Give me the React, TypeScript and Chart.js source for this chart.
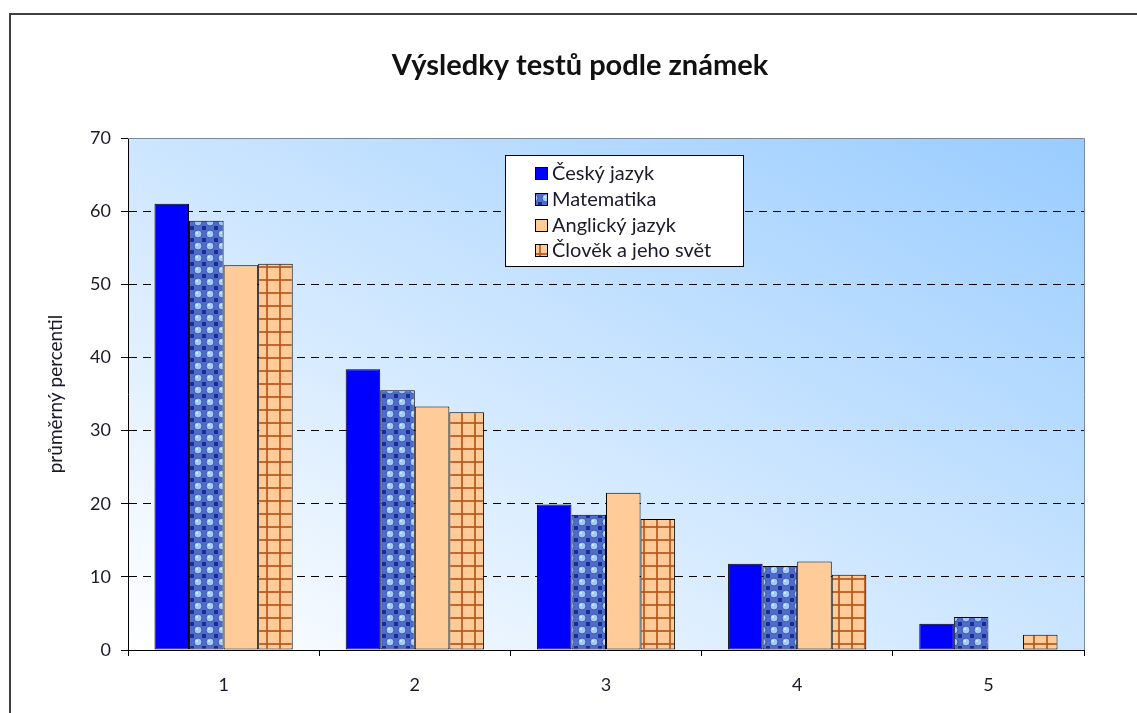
import React, { useEffect, useRef } from 'react';
import { Chart, registerables } from 'chart.js';

Chart.register(...registerables);

const categories = ['1', '2', '3', '4', '5'];
const ceskyJazyk = [61.0, 38.4, 19.9, 11.8, 3.6];
const matematika = [58.7, 35.5, 18.5, 11.5, 4.5];
const anglickyJazyk = [52.6, 33.3, 21.5, 12.1, 0];
const clovekSvet = [52.8, 32.5, 17.9, 10.3, 2.1];
const seriesNames = ['Český jazyk', 'Matematika', 'Anglický jazyk', 'Člověk a jeho svět'];
const chartTitle = 'Výsledky testů podle známek';
const yAxisTitle = 'průměrný percentil';
const yMin = 0;
const yMax = 70;
const yStep = 10;

const FONT = 'Lato, "Open Sans", sans-serif';
const W = 1137;
const H = 713;

function makeMathPattern(): CanvasPattern | string {
  const c = document.createElement('canvas');
  const s = 12;
  c.width = s;
  c.height = s;
  const g = c.getContext('2d');
  if (!g) return '#7fa6e6';
  g.fillStyle = '#4f6ccb';
  g.fillRect(0, 0, s, s);
  g.fillStyle = '#1d2a8e';
  g.fillRect(0, 0, 2, 2);
  g.fillRect(s - 2, 0, 2, 2);
  g.fillRect(0, s - 2, 2, 2);
  g.fillRect(s - 2, s - 2, 2, 2);
  g.beginPath();
  g.arc(6, 6, 4, 0, Math.PI * 2);
  g.fillStyle = '#a3c9f8';
  g.fill();
  g.lineWidth = 1;
  g.strokeStyle = '#3a57b8';
  g.stroke();
  g.fillStyle = '#cfe5ff';
  g.fillRect(4, 4, 2, 2);
  const p = g.createPattern(c, 'repeat');
  return p || '#7fa6e6';
}

function makeGridPattern(): CanvasPattern | string {
  const c = document.createElement('canvas');
  const s = 13;
  c.width = s;
  c.height = s;
  const g = c.getContext('2d');
  if (!g) return '#ffcc99';
  g.fillStyle = '#ffcc99';
  g.fillRect(0, 0, s, s);
  g.fillStyle = 'rgba(185, 85, 25, 0.85)';
  g.fillRect(0, 6, s, 2);
  g.fillRect(6, 0, 2, s);
  const p = g.createPattern(c, 'repeat');
  return p || '#ffcc99';
}

export default function App() {
  const ref = useRef<HTMLCanvasElement | null>(null);

  useEffect(() => {
    const canvas = ref.current;
    if (!canvas) return;
    const mathPat = makeMathPattern();
    const gridPat = makeGridPattern();
    const fills = ['#0000ff', mathPat, '#ffcc99', gridPat];

    const bgPlugin = {
      id: 'bgPlugin',
      beforeDraw(chart: any) {
        const { ctx, chartArea } = chart;
        const { left, right, top, bottom } = chartArea;
        const cx = (left + right) / 2;
        const cy = (top + bottom) / 2;
        const w = right - left;
        const h = bottom - top;
        const ux = h;
        const uy = -w;
        const blx = left - cx;
        const bly = bottom - cy;
        const k = (blx * ux + bly * uy) / (ux * ux + uy * uy);
        const grad = ctx.createLinearGradient(cx + k * ux, cy + k * uy, cx - k * ux, cy - k * uy);
        grad.addColorStop(0, '#ffffff');
        grad.addColorStop(1, '#99ccff');
        ctx.save();
        ctx.fillStyle = '#ffffff';
        ctx.fillRect(0, 0, chart.width, chart.height);
        ctx.fillStyle = grad;
        ctx.fillRect(left, top, w, h);
        ctx.restore();
      },
      afterDraw(chart: any) {
        const { ctx, chartArea } = chart;
        ctx.save();
        ctx.strokeStyle = '#7a8a9a';
        ctx.lineWidth = 1;
        ctx.beginPath();
        ctx.moveTo(chartArea.left, chartArea.top + 0.5);
        ctx.lineTo(chartArea.right + 0.5, chartArea.top + 0.5);
        ctx.lineTo(chartArea.right + 0.5, chartArea.bottom);
        ctx.stroke();

        ctx.strokeStyle = '#3f3f3f';
        ctx.lineWidth = 2;
        ctx.beginPath();
        ctx.moveTo(10, H);
        ctx.lineTo(10, 14);
        ctx.lineTo(W, 14);
        ctx.stroke();

        ctx.fillStyle = '#111111';
        ctx.font = `bold 29px ${FONT}`;
        ctx.textAlign = 'center';
        ctx.textBaseline = 'alphabetic';
        ctx.fillText(chartTitle, 580, 75);

        const lx = 505;
        const ly = 155;
        const lw = 238;
        const lh = 111;
        ctx.fillStyle = '#ffffff';
        ctx.fillRect(lx, ly, lw, lh);
        ctx.strokeStyle = '#000000';
        ctx.lineWidth = 1;
        ctx.strokeRect(lx + 0.5, ly + 0.5, lw, lh);
        const rows = [173, 199, 225, 250];
        ctx.font = `20px ${FONT}`;
        ctx.textAlign = 'left';
        ctx.textBaseline = 'middle';
        seriesNames.forEach((name, i) => {
          const y = rows[i];
          ctx.fillStyle = fills[i] as any;
          ctx.fillRect(535, y - 6, 12, 12);
          ctx.strokeStyle = '#000000';
          ctx.strokeRect(535.5, y - 5.5, 12, 12);
          ctx.fillStyle = '#1a1a2a';
          ctx.fillText(name, 552, y + 1);
        });
        ctx.restore();
      },
    };

    const datasets = [ceskyJazyk, matematika, anglickyJazyk, clovekSvet].map((d, i) => ({
      label: seriesNames[i],
      data: d,
      backgroundColor: fills[i] as any,
      borderColor: '#000000',
      borderWidth: 1,
      borderSkipped: false as any,
      barPercentage: 1.0,
      categoryPercentage: 0.723,
    }));

    const chart = new Chart(canvas, {
      type: 'bar',
      data: { labels: categories, datasets },
      options: {
        responsive: false,
        animation: false,
        devicePixelRatio: 1,
        layout: { padding: { left: 40, right: 53, top: 138, bottom: 0 } },
        plugins: {
          legend: { display: false },
          title: { display: false },
          tooltip: { enabled: false },
        },
        scales: {
          x: {
            grid: {
              offset: true,
              drawOnChartArea: false,
              drawTicks: true,
              tickLength: 6,
              color: '#000000',
            },
            border: { color: '#000000', width: 1 },
            ticks: { padding: 18, color: '#1a1a2a', font: { family: FONT, size: 18 } },
            afterFit: (s: any) => {
              s.height = 63;
            },
          },
          y: {
            min: yMin,
            max: yMax,
            ticks: {
              stepSize: yStep,
              padding: 10,
              color: '#1a1a2a',
              font: { family: FONT, size: 18 },
            },
            grid: {
              color: (c: any) =>
                c.tick && (c.tick.value === yMin || c.tick.value === yMax) ? 'rgba(0,0,0,0)' : '#000000',
              tickColor: '#000000',
              tickLength: 7,
              lineWidth: 1,
            },
            border: { color: '#000000', width: 1, dash: [8, 6] },
            title: {
              display: true,
              text: yAxisTitle,
              color: '#1a1a2a',
              font: { family: FONT, size: 19 },
              padding: { top: 4, bottom: 0 },
            },
            afterFit: (s: any) => {
              s.width = 88;
            },
          },
        },
      },
      plugins: [bgPlugin],
    });

    return () => {
      chart.destroy();
    };
  }, []);

  return (
    <canvas
      ref={ref}
      width={W}
      height={H}
      style={{ position: 'fixed', left: 0, top: 0, width: W, height: H, display: 'block' }}
    />
  );
}
